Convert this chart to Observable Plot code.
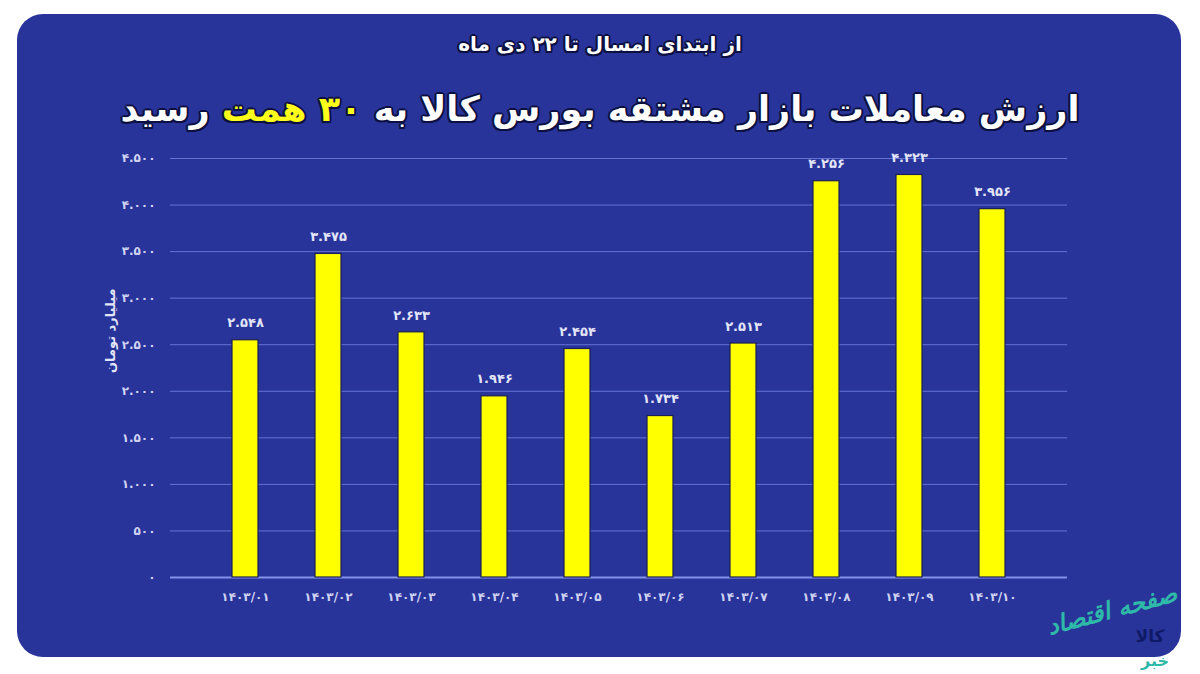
<!DOCTYPE html>
<html><head><meta charset="utf-8">
<script src="https://cdn.jsdelivr.net/npm/d3@7"></script>
<script src="https://cdn.jsdelivr.net/npm/@observablehq/plot@0.6"></script>
<style>
html,body{margin:0;padding:0;background:#fff;}
#wrap{position:relative;width:1200px;height:674px;overflow:hidden;background:#fff;}
#panel{position:absolute;left:17px;top:14px;width:1164px;height:643px;background:#29349b;border-radius:26px;}
#head{position:relative;height:140px;}
.ol{text-shadow:2px 0 0 #0b1040,-2px 0 0 #0b1040,0 2px 0 #0b1040,0 -2px 0 #0b1040,1.5px 1.5px 0 #0b1040,-1.5px -1.5px 0 #0b1040,1.5px -1.5px 0 #0b1040,-1.5px 1.5px 0 #0b1040;}
#sub{position:absolute;top:32px;left:0;width:1200px;text-align:center;direction:rtl;font:bold 20px "DejaVu Sans";color:#fff;}
#title{position:absolute;top:89px;left:0;width:1200px;text-align:center;direction:rtl;font:bold 35px "DejaVu Sans";color:#fff;}
#title .hl{color:#ffff1a;}
#chart{position:relative;}
#logo{position:absolute;left:1042px;top:596px;width:140px;text-align:center;direction:rtl;font:bold italic 24px "DejaVu Sans";color:#2fb9a8;transform:rotate(-15deg);white-space:nowrap;}
#logo2{position:absolute;left:1120px;top:626px;width:60px;text-align:center;direction:rtl;font:bold 17px "DejaVu Sans";color:#0f1a66;white-space:nowrap;}
#logo3{position:absolute;left:1130px;top:651px;width:50px;text-align:center;direction:rtl;font:bold 16px "DejaVu Sans";color:#2fb9a8;white-space:nowrap;}
</style>
</head><body>
<div id="wrap">
  <div id="panel"></div>
  <div id="head">
    <div id="sub" class="ol">از ابتدای امسال تا ۲۲ دی ماه</div>
    <div id="title" class="ol">ارزش معاملات بازار مشتقه بورس کالا به <span class="hl">۳۰ همت</span> رسید</div>
  </div>
  <div id="chart"></div>
  <div id="logo">صفحه اقتصاد</div>
  <div id="logo2">کالا</div>
  <div id="logo3">خبر</div>
</div>
<script>
const months = ["۱۴۰۳/۰۱","۱۴۰۳/۰۲","۱۴۰۳/۰۳","۱۴۰۳/۰۴","۱۴۰۳/۰۵","۱۴۰۳/۰۶","۱۴۰۳/۰۷","۱۴۰۳/۰۸","۱۴۰۳/۰۹","۱۴۰۳/۱۰"];
const values = [2548, 3475, 2633, 1946, 2454, 1734, 2513, 4256, 4323, 3956];
const yTicks = [0, 500, 1000, 1500, 2000, 2500, 3000, 3500, 4000, 4500];
const yTickLabels = ["۰","۵۰۰","۱.۰۰۰","۱.۵۰۰","۲.۰۰۰","۲.۵۰۰","۳.۰۰۰","۳.۵۰۰","۴.۰۰۰","۴.۵۰۰"];
const yLabel = "میلیارد تومان";

const faDigits = "۰۱۲۳۴۵۶۷۸۹";
const fa = n => d3.format(",")(n).replace(/,/g, ".").replace(/\d/g, d => faDigits[d]);
const data = months.map((m, i) => ({month: m, value: values[i]}));

const chart = Plot.plot({
  width: 1200,
  height: 534,
  marginLeft: 170,
  marginRight: 133,
  marginTop: 18,
  marginBottom: 97,
  style: {background: "transparent", fontFamily: "DejaVu Sans", color: "#cfd3f2"},
  x: {domain: months, padding: 0.69, label: null},
  y: {domain: [0, 4500], label: null},
  marks: [
    Plot.gridY(yTicks, {stroke: "#6474d2", strokeOpacity: 1, strokeWidth: 1}),
    Plot.ruleY([0], {stroke: "#8392e8", strokeWidth: 2}),
    Plot.barY(data, {x: "month", y: "value", fill: "#ffff00", stroke: "#1a1f55", strokeWidth: 1.2}),
    Plot.text(data, {x: "month", y: "value", text: d => fa(d.value), dy: -17, fill: "#e2e5f8", fontWeight: "bold", fontSize: 13}),
    Plot.axisX({tickSize: 0, tickPadding: 15, fontSize: 12, fontWeight: "bold", fill: "#cfd3f2", label: null}),
    Plot.axisY({ticks: yTicks, tickSize: 0, tickPadding: 15, fontSize: 12, fontWeight: "bold", fill: "#cfd3f2",
      tickFormat: d => yTickLabels[yTicks.indexOf(d)], label: null}),
    Plot.text([yLabel], {frameAnchor: "left", text: d => d, rotate: -90, dx: -60, dy: 5, fill: "#e2e5f8", fontWeight: "bold", fontSize: 13})
  ]
});
document.getElementById("chart").appendChild(chart);
</script>
</body></html>
